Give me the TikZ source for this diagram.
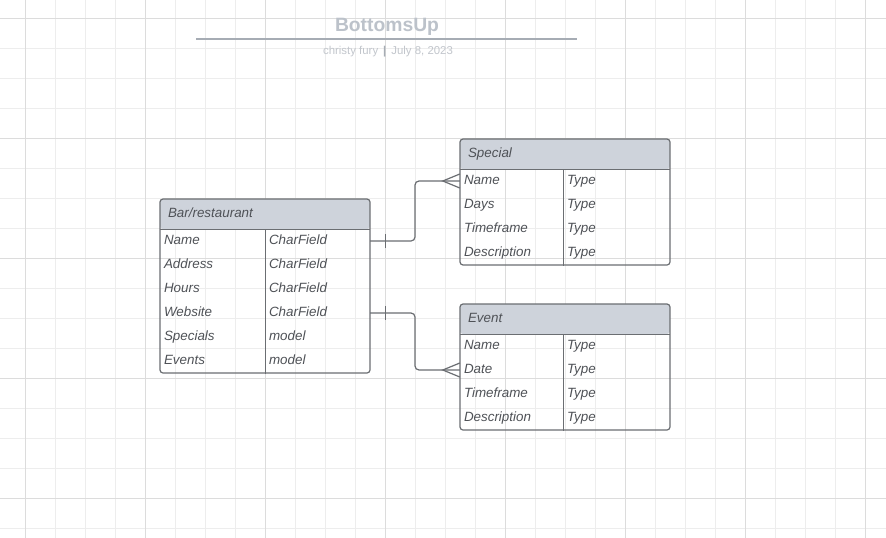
\documentclass[tikz,border=0pt]{standalone}
\usepackage{fontspec}
\setmainfont{Liberation Sans}
\usetikzlibrary{calc, positioning}
\definecolor{hdrfill}{HTML}{CED3DB}
\definecolor{edge}{HTML}{6B6E72}
\definecolor{ink}{HTML}{4F5257}
\definecolor{gridminor}{HTML}{EDEDED}
\definecolor{gridmajor}{HTML}{DCDCDC}
\definecolor{titlegray}{HTML}{BCC2CA}
\definecolor{rulegray}{HTML}{A6ACB4}
\definecolor{bygray}{HTML}{C2C6CC}
\begin{document}
\begin{tikzpicture}[x=1pt, y=-1pt,
    tbl/.style={draw=edge, line width=1.2pt, rounded corners=3pt, minimum width=210pt, inner sep=0pt,
        path picture={\fill[hdrfill] (path picture bounding box.north west) rectangle ([yshift=-30pt]path picture bounding box.north east);}},
    hd/.style={minimum height=30pt, text width=194pt, inner xsep=8pt, inner ysep=0pt, align=left,
        text height=9.6pt, text depth=2.8pt, font=\fontsize{13.4}{16}\selectfont\itshape, text=ink},
    fld/.style={minimum height=24pt, text width=#1, inner xsep=4pt, inner ysep=0pt, align=left,
        text height=9.6pt, text depth=2.8pt, font=\fontsize{13.4}{16}\selectfont\itshape, text=ink},
    fld/.default=97pt,
    sep/.style={draw=edge, line width=1.2pt},
    conn/.style={draw=edge, line width=1.2pt}]
    \fill[white] (0,0) rectangle (886,538);
    \useasboundingbox (0,0) rectangle (886,538);

    % background grid
    \foreach \gx in {25,55,...,865} \draw[gridminor, line width=1pt] (\gx,0) -- (\gx,538);
    \foreach \gy in {18,48,...,528} \draw[gridminor, line width=1pt] (0,\gy) -- (886,\gy);
    \foreach \gx in {25,145,...,865} \draw[gridmajor, line width=1pt] (\gx,0) -- (\gx,538);
    \foreach \gy in {18,138,...,498} \draw[gridmajor, line width=1pt] (0,\gy) -- (886,\gy);

    % title block
    \node[font=\fontsize{19.3}{22}\selectfont\bfseries, text=titlegray] (title) at (387,27) {BottomsUp};
    \draw[rulegray, line width=1.8pt] (196,39) -- (577,39);
    \node[font=\fontsize{11.4}{13}\selectfont, text=bygray] (byline) at (388,51.5)
        {christy fury\hspace{5pt}{\color{rulegray}\textbf{|}}\hspace{5pt}July 8, 2023};

    % Bar/restaurant
    \node[tbl, minimum height=174pt] (bar) at (265,286) {};
    \node[hd] (bar-h) at (265,214) {Bar/restaurant};
    \node[fld] (bar-n1) at (212.5,241) {Name};
    \node[fld] (bar-n2) at (212.5,265) {Address};
    \node[fld] (bar-n3) at (212.5,289) {Hours};
    \node[fld] (bar-n4) at (212.5,313) {Website};
    \node[fld] (bar-n5) at (212.5,337) {Specials};
    \node[fld] (bar-n6) at (212.5,361) {Events};
    \node[fld] (bar-t1) at (317.5,241) {CharField};
    \node[fld] (bar-t2) at (317.5,265) {CharField};
    \node[fld] (bar-t3) at (317.5,289) {CharField};
    \node[fld] (bar-t4) at (317.5,313) {CharField};
    \node[fld] (bar-t5) at (317.5,337) {model};
    \node[fld] (bar-t6) at (317.5,361) {model};
    \draw[sep] (bar-h.south west) -- (bar-h.south east);
    \draw[sep] (bar-h.south -| bar-n1.east) -- (bar.south -| bar-n1.east);

    % Special
    \node[tbl, minimum height=126pt] (sp) at (565,202) {};
    \node[hd] (sp-h) at (565,154) {Special};
    \node[fld=95pt] (sp-n1) at (511.5,181) {Name};
    \node[fld=95pt] (sp-n2) at (511.5,205) {Days};
    \node[fld=95pt] (sp-n3) at (511.5,229) {Timeframe};
    \node[fld=95pt] (sp-n4) at (511.5,253) {Description};
    \node[fld=99pt] (sp-t1) at (616.5,181) {Type};
    \node[fld=99pt] (sp-t2) at (616.5,205) {Type};
    \node[fld=99pt] (sp-t3) at (616.5,229) {Type};
    \node[fld=99pt] (sp-t4) at (616.5,253) {Type};
    \draw[sep] (sp-h.south west) -- (sp-h.south east);
    \draw[sep] (sp-h.south -| sp-n1.east) -- (sp.south -| sp-n1.east);

    % Event
    \node[tbl, minimum height=126pt] (ev) at (565,367) {};
    \node[hd] (ev-h) at (565,319) {Event};
    \node[fld=95pt] (ev-n1) at (511.5,346) {Name};
    \node[fld=95pt] (ev-n2) at (511.5,370) {Date};
    \node[fld=95pt] (ev-n3) at (511.5,394) {Timeframe};
    \node[fld=95pt] (ev-n4) at (511.5,418) {Description};
    \node[fld=99pt] (ev-t1) at (616.5,346) {Type};
    \node[fld=99pt] (ev-t2) at (616.5,370) {Type};
    \node[fld=99pt] (ev-t3) at (616.5,394) {Type};
    \node[fld=99pt] (ev-t4) at (616.5,418) {Type};
    \draw[sep] (ev-h.south west) -- (ev-h.south east);
    \draw[sep] (ev-h.south -| ev-n1.east) -- (ev.south -| ev-n1.east);

    % relations: one bar -> many specials / events
    \draw[conn, rounded corners=4pt] (bar-t1.east) -| ($(bar-t1.east)!.5!(sp-n1.west)$) |- (sp-n1.west);
    \draw[conn] ($(bar-t1.east)+(15,-7)$) -- ($(bar-t1.east)+(15,7)$);
    \draw[conn] ($(sp-n1.west)+(0,-7)$) -- ($(sp-n1.west)+(-17,0)$) -- ($(sp-n1.west)+(0,7)$);

    \draw[conn, rounded corners=4pt] (bar-t4.east) -| ($(bar-t4.east)!.5!(ev-n2.west)$) |- (ev-n2.west);
    \draw[conn] ($(bar-t4.east)+(15,-7)$) -- ($(bar-t4.east)+(15,7)$);
    \draw[conn] ($(ev-n2.west)+(0,-7)$) -- ($(ev-n2.west)+(-17,0)$) -- ($(ev-n2.west)+(0,7)$);
\end{tikzpicture}
\end{document}
